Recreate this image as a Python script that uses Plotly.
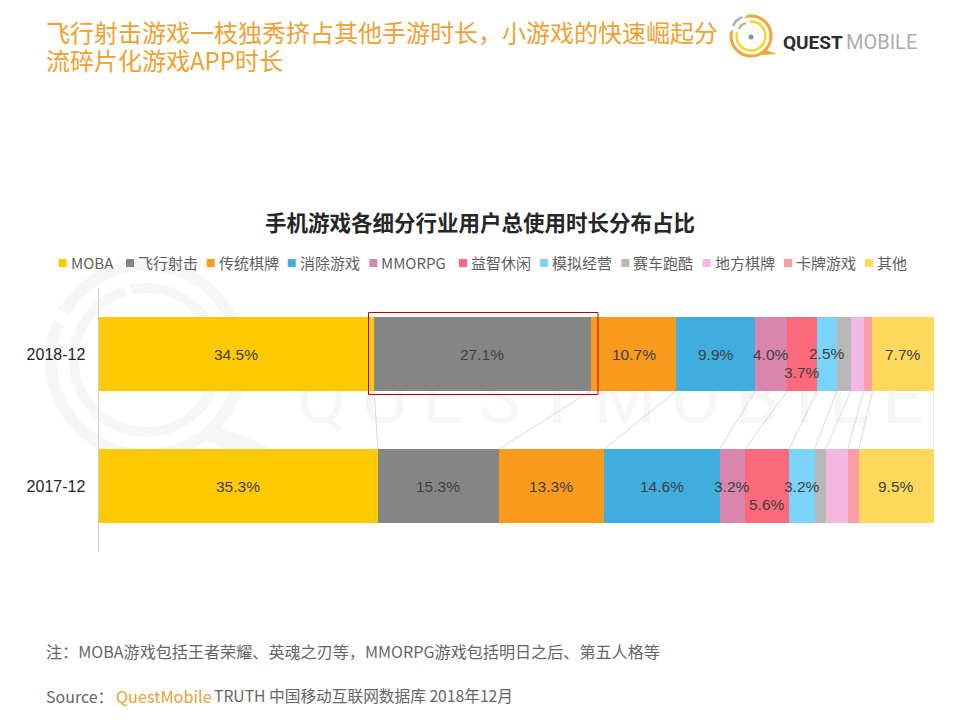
import plotly.graph_objects as go

W = 960
H = 720
PAGE_MARGIN = 8  # browser body margin around the figure

# data
periods = ["2017-12", "2018-12"]
games = ["MOBA", "飞行射击", "传统棋牌", "消除游戏", "MMORPG", "益智休闲", "模拟经营", "赛车跑酷", "地方棋牌", "卡牌游戏", "其他"]
share_2018 = [34.5, 27.1, 10.7, 9.9, 4.0, 3.7, 2.5, 1.75, 1.6, 1.1, 7.7]
share_2017 = [35.3, 15.3, 13.3, 14.6, 3.2, 5.6, 3.2, 1.4, 2.8, 1.4, 9.5]
labels_2018 = ["34.5%", "27.1%", "10.7%", "9.9%", "4.0%", "3.7%", "2.5%", "", "", "", "7.7%"]
labels_2017 = ["35.3%", "15.3%", "13.3%", "14.6%", "3.2%", "5.6%", "3.2%", "", "", "", "9.5%"]

colors = ["#FFCA03", "#858585", "#FA9B1E", "#3FADDD", "#D986AE", "#FB6A7B", "#7AD3FB", "#B8B8B8", "#F2B8E2", "#FD9DA6", "#FFD95B"]
legend_x = [58.7, 126, 206.7, 287.7, 369.3, 459, 540, 621.3, 702.7, 784, 865]

ORANGE = "#F0A030"
GREY = "#666666"
WM = "#F6F6F6"
CJK = "Noto Sans CJK SC"
LATIN = "Liberation Sans"

FIG_W = W - 2 * PAGE_MARGIN
FIG_H = H - 2 * PAGE_MARGIN


def px(x):
    return (x - PAGE_MARGIN) / FIG_W


def py(y):
    return 1 - (y - PAGE_MARGIN) / FIG_H


def circle(cx, cy, r, **kw):
    return dict(type="circle", xref="paper", yref="paper", x0=px(cx - r), x1=px(cx + r),
                y0=py(cy + r), y1=py(cy - r), **kw)


def path(points, **kw):
    d = "M" + " L".join(f"{px(a):.5f},{py(b):.5f}" for a, b in points)
    return dict(type="path", xref="paper", yref="paper", path=d, **kw)


def note(x, y, text, size, color, family=CJK, anchor="left"):
    return dict(xref="paper", yref="paper", x=px(x), y=py(y), text=text, showarrow=False,
                xanchor=anchor, yanchor="middle", font=dict(size=size, color=color, family=family))


def cumulate(values):
    # running share in percent of the bar, since the bars are normalised
    total = sum(values)
    out = [0]
    for v in values:
        out.append(out[-1] + v / total * 100)
    return out


fig = go.Figure()

# watermark word sits on its own page sized axes, drawn before the bars
fig.add_trace(go.Scatter(x=[610], y=[441], mode="text", text=["\u2009".join("QUESTMOBILE")], showlegend=False,
                         hoverinfo="skip", textposition="top center",
                         textfont=dict(size=72, color=WM, family="Roboto", weight=400),
                         xaxis="x", yaxis="y"))

for i, g in enumerate(games):
    fig.add_trace(go.Bar(y=periods, x=[share_2017[i], share_2018[i]], name=g, orientation="h",
                         marker=dict(color=colors[i], line=dict(width=0)), showlegend=False,
                         xaxis="x2", yaxis="y2"))

shapes = []
annotations = []

# watermark logo, rings with two gaps cut out
shapes.append(circle(146, 360, 95, line=dict(color=WM, width=12), layer="below"))
shapes.append(circle(146, 360, 72, line=dict(color=WM, width=10), layer="below"))
shapes.append(path([(70, 322), (50, 311)], line=dict(color="white", width=12), layer="below"))
shapes.append(path([(130.5, 300), (125, 278.5)], line=dict(color="white", width=6), layer="below"))
shapes.append(path([(215, 425), (272, 448), (232, 452), (205, 440)], fillcolor=WM, line=dict(width=0), layer="below"))

# connectors between the two bars
cum_2018 = cumulate(share_2018)
cum_2017 = cumulate(share_2017)
for a, b in zip(cum_2018[1:], cum_2017[1:]):
    shapes.append(dict(type="line", xref="x2", yref="y2", x0=a, x1=b, y0=0.72, y1=0.28,
                       line=dict(color="#D9D9D9", width=1)))

# red highlight box
shapes.append(dict(type="rect", xref="paper", yref="paper", x0=px(368.5), x1=px(598), y0=py(394.5), y1=py(312.5),
                   line=dict(color="#C00000", width=1)))

# segment labels
for row, cum, labels in [(0, cum_2017, labels_2017), (1, cum_2018, labels_2018)]:
    for i, t in enumerate(labels):
        if not t:
            continue
        shift = 0
        if t in ("3.7%", "5.6%"):
            shift = -18
        elif t == "2.5%":
            shift = 1
        annotations.append(dict(xref="x2", yref="y2", x=(cum[i] + cum[i + 1]) / 2, y=periods[row], text=t,
                                showarrow=False, yshift=shift,
                                font=dict(size=15.5, color="#404040", family=LATIN)))

# legend drawn by hand, the built in one cannot get this tight
for g, c, x in zip(games, colors, legend_x):
    shapes.append(dict(type="rect", xref="paper", yref="paper", x0=px(x), x1=px(x + 8), y0=py(267), y1=py(259),
                       fillcolor=c, line=dict(width=0)))
    annotations.append(note(x + 10, 262, g, 15, "#5F5F5F"))

# headline
annotations.append(note(43.5, 31.5, "飞行射击游戏一枝独秀挤占其他手游时长，小游戏的快速崛起分", 24, ORANGE))
annotations.append(note(43.5, 59.5, "流碎片化游戏APP时长", 24, ORANGE))

# logo
shapes.append(circle(751, 36, 20, line=dict(color="#EFA63B", width=3)))
shapes.append(circle(751, 36, 14.5, line=dict(color="#F8D52E", width=2.5)))
shapes.append(circle(751, 37, 2.5, fillcolor="#8E8E9A", line=dict(width=0)))
shapes.append(path([(766, 50), (777, 54), (760, 55)], fillcolor="#EFA63B", line=dict(width=0)))
shapes.append(path([(729, 30), (745, 14)], line=dict(color="white", width=5)))
shapes.append(path([(737, 32), (749, 20)], line=dict(color="white", width=4)))
shapes.append(path([(733, 26), (736, 21), (742, 17)], line=dict(color="#AEAEB4", width=2.5)))
shapes.append(path([(739, 29), (742, 25), (746, 23)], line=dict(color="#AEAEB4", width=2)))
annotations.append(note(781, 42, "<b>QUEST</b>", 19, "#2B2B30", "Roboto"))
annotations.append(note(844, 42, "MOBILE", 20, "#ABABAF", "Roboto"))

# footer
annotations.append(note(43.5, 650.5, "注：MOBA游戏包括王者荣耀、英魂之刃等，MMORPG游戏包括明日之后、第五人格等", 16.1, GREY))
annotations.append(note(43.5, 695.5, "Source：", 16, GREY))
annotations.append(note(113.5, 695.5, "QuestMobile", 16.3, ORANGE))
annotations.append(note(211.5, 695.5, "TRUTH 中国移动互联网数据库 2018年12月", 15.7, GREY))

fig.update_layout(
    width=FIG_W,
    height=FIG_H,
    barmode="stack",
    barnorm="percent",
    bargap=0.44,
    margin=dict(l=0, r=0, t=0, b=0),
    paper_bgcolor="white",
    plot_bgcolor="rgba(0,0,0,0)",
    showlegend=False,
    title=dict(text="<b>手机游戏各细分行业用户总使用时长分布占比</b>", x=px(480), xanchor="center", y=py(223), yanchor="middle",
               font=dict(size=21.5, color="#262626", family=CJK)),
    xaxis=dict(domain=[0, 1], range=[PAGE_MARGIN, W - PAGE_MARGIN], visible=False, fixedrange=True),
    yaxis=dict(domain=[0, 1], range=[H - PAGE_MARGIN, PAGE_MARGIN], visible=False, fixedrange=True),
    xaxis2=dict(domain=[px(98.5), px(934)], range=[0, 100], visible=False, anchor="y2"),
    yaxis2=dict(domain=[py(552), py(288)], type="category", categoryorder="array", categoryarray=periods,
                anchor="x2", showgrid=False, zeroline=False, showline=True, linecolor="#D0D0D0", linewidth=1,
                ticks="", ticklabelstandoff=9, tickfont=dict(size=16, color="#262626", family=LATIN)),
    shapes=shapes,
    annotations=annotations,
)

fig.write_html("out.html")
